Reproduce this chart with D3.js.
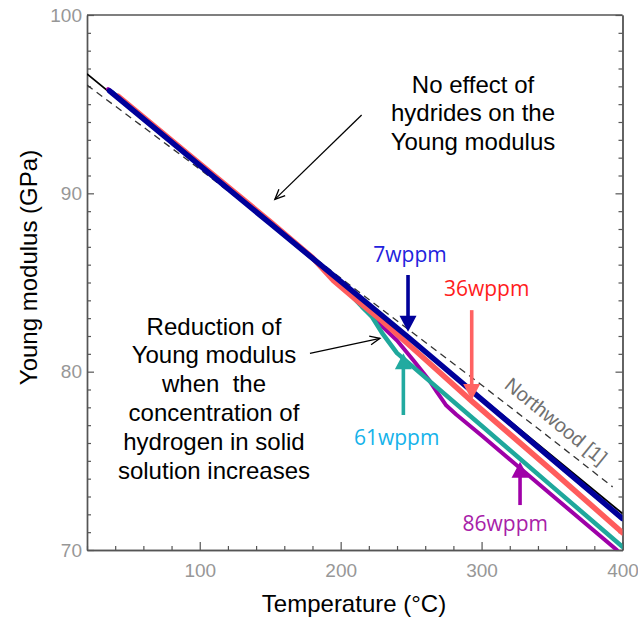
<!DOCTYPE html>
<html><head><meta charset="utf-8">
<script src="https://cdn.jsdelivr.net/npm/d3@7"></script>
<style>body{margin:0;background:#fff}svg{display:block}</style>
</head><body>
<svg id="c" width="638" height="619"></svg>
<script>
// ---- data (Temperature °C, Young modulus GPa) ----
const blackT = [20, 100, 200, 300, 400];
const blackE = [96.7, 91.51, 85.02, 78.53, 72.04];
const northwoodT = [20, 100, 150, 200, 250, 300, 350, 393];
const northwoodE = [96.07, 91.36, 88.3, 85.25, 82.25, 79.25, 76.2, 73.54];
const blueT = [36, 100, 150, 200, 248, 300, 350, 400];
const blueE = [95.75, 91.57, 88.31, 85.06, 81.93, 78.45, 75.1, 71.76];
const redT = [42, 100, 150, 180, 195, 210, 230, 250, 293, 350, 400];
const redE = [95.45, 91.67, 88.42, 86.4, 85.1, 84.1, 82.8, 81.4, 78.35, 74.45, 70.97];
const tealT = [38, 100, 150, 180, 200, 215, 222, 230, 240, 300, 350, 400];
const tealE = [95.65, 91.6, 88.35, 86.35, 84.9, 83.65, 83.1, 82.1, 81.04, 76.97, 73.57, 70.18];
const purpleT = [35, 100, 150, 180, 200, 215, 222, 230, 240, 252, 263, 268, 275, 282, 300, 350, 396];
const purpleE = [95.85, 91.6, 88.35, 86.35, 84.9, 83.7, 83.1, 82.5, 81.75, 80.6, 79.5, 78.9, 78.1, 77.6, 76.42, 73.07, 70.0];

const xTicksMajor = [100, 200, 300, 400];
const yTicksMajor = [70, 80, 90, 100];

const seriesLabels = ["7wppm", "36wppm", "61wppm", "86wppm"];
const arrowT = [247.8, 293.0, 244.5, 327.3];
const arrowTailE = [85.42, 83.45, 77.57, 72.52];
const arrowTipE = [82.24, 78.41, 81.03, 74.95];

// ---- layout ----
const svg = d3.select("#c");
const x = d3.scaleLinear().domain([20, 400]).range([87, 622.5]);
const y = d3.scaleLinear().domain([70, 100]).range([550, 15]);
const axisCol = "#555";
const tickFont = "'Liberation Sans', Arial, sans-serif";

svg.append("defs").append("clipPath").attr("id", "clip")
  .append("rect").attr("x", x(20)).attr("y", y(100))
  .attr("width", x(400) - x(20)).attr("height", y(70) - y(100));

// axes frame
svg.append("line").attr("x1", x(20)).attr("x2", x(400)).attr("y1", y(100)).attr("y2", y(100))
  .attr("stroke", axisCol).attr("stroke-width", 1.4);

function styleAxis(g) {
  g.selectAll("path.domain").attr("stroke", axisCol).attr("stroke-width", 1.4);
  g.selectAll(".tick line").attr("stroke", axisCol).attr("stroke-width", 1.2);
}
const yMinor = d3.range(70, 101, 1).filter(v => !yTicksMajor.includes(v));
const xMinor = d3.range(20, 401, 20).filter(v => !xTicksMajor.includes(v));

// left
svg.append("g").attr("transform", `translate(${x(20)},0)`)
  .call(d3.axisRight(y).tickValues(yMinor).tickSize(4).tickSizeOuter(0).tickFormat(""))
  .call(styleAxis);
svg.append("g").attr("transform", `translate(${x(20)},0)`)
  .call(d3.axisRight(y).tickValues(yTicksMajor).tickSize(7).tickSizeOuter(0).tickFormat(""))
  .call(styleAxis);
// right
svg.append("g").attr("transform", `translate(${x(400)},0)`)
  .call(d3.axisLeft(y).tickValues(yMinor).tickSize(4).tickSizeOuter(0).tickFormat(""))
  .call(styleAxis);
svg.append("g").attr("transform", `translate(${x(400)},0)`)
  .call(d3.axisLeft(y).tickValues(yTicksMajor).tickSize(7).tickSizeOuter(0).tickFormat(""))
  .call(styleAxis);
// bottom
svg.append("g").attr("transform", `translate(0,${y(70)})`)
  .call(d3.axisTop(x).tickValues(xMinor).tickSize(4).tickSizeOuter(0).tickFormat(""))
  .call(styleAxis);
svg.append("g").attr("transform", `translate(0,${y(70)})`)
  .call(d3.axisTop(x).tickValues(xTicksMajor).tickSize(8).tickSizeOuter(0).tickFormat(""))
  .call(styleAxis);

// tick labels
const yl = svg.append("g").attr("transform", `translate(${x(20)},0)`)
  .call(d3.axisLeft(y).tickValues(yTicksMajor).tickSize(0).tickPadding(5).tickFormat(d3.format("d")));
yl.select("path.domain").remove();
yl.selectAll("text").attr("font-family", tickFont).attr("font-size", 19).attr("fill", "#979797");
const xl = svg.append("g").attr("transform", `translate(0,${y(70)})`)
  .call(d3.axisBottom(x).tickValues(xTicksMajor).tickSize(0).tickPadding(14).tickFormat(d3.format("d")));
xl.select("path.domain").remove();
xl.selectAll("text").attr("font-family", tickFont).attr("font-size", 19).attr("fill", "#979797");

// axis titles
svg.append("text").attr("x", 354).attr("y", 612).attr("text-anchor", "middle")
  .attr("font-family", tickFont).attr("font-size", 24).attr("fill", "#000")
  .text("Temperature (°C)");
svg.append("text").attr("transform", "translate(36.5,267.5) rotate(-90)").attr("text-anchor", "middle")
  .attr("font-family", tickFont).attr("font-size", 24).attr("fill", "#000")
  .text("Young modulus (GPa)");

// ---- curves ----
const plot = svg.append("g").attr("clip-path", "url(#clip)");
const line = d3.line().x(d => x(d[0])).y(d => y(d[1]));
function series(T, E) { return T.map((t, i) => [t, E[i]]); }

plot.append("path").datum(series(blackT, blackE)).attr("d", line)
  .attr("fill", "none").attr("stroke", "#000").attr("stroke-width", 1.8);
plot.append("path").datum(series(northwoodT, northwoodE)).attr("d", line)
  .attr("fill", "none").attr("stroke", "#333").attr("stroke-width", 1.3).attr("stroke-dasharray", "7,5");

const curves = [
  {T: purpleT, E: purpleE, c: "#9e00a8", w: 4},
  {T: tealT, E: tealE, c: "#1fa89c", w: 4.5},
  {T: redT, E: redE, c: "#ff5c5c", w: 5.5},
  {T: blueT, E: blueE, c: "#00009a", w: 5.5}
];
curves.forEach(s => {
  plot.append("path").datum(series(s.T, s.E)).attr("d", line)
    .attr("fill", "none").attr("stroke", s.c).attr("stroke-width", s.w)
    .attr("stroke-linejoin", "round").attr("stroke-linecap", "round");
});

// Northwood label
svg.append("text").attr("transform", "translate(556,421) rotate(39)")
  .attr("text-anchor", "middle").attr("dominant-baseline", "central")
  .attr("font-family", tickFont).attr("font-size", 20).attr("fill", "#707070")
  .text("Northwood [1]");

// ---- thick coloured arrows + labels ----
const arrowCols = ["#00009a", "#ff6262", "#22aaa0", "#a000a8"];
const labelCols = ["#2222dd", "#ff1c1c", "#14b2ea", "#a820a8"];
const labelX = [410, 486.7, 396.7, 505.3];
const labelY = [262, 296, 445, 531];
seriesLabels.forEach((lab, i) => {
  const ax = x(arrowT[i]);
  const yTail = y(arrowTailE[i]);
  const yTip = y(arrowTipE[i]);
  const dir = yTip > yTail ? 1 : -1;
  const headL = 16, headW = 17;
  svg.append("line").attr("x1", ax).attr("x2", ax).attr("y1", yTail).attr("y2", yTip - dir * headL + dir)
    .attr("stroke", arrowCols[i]).attr("stroke-width", 3.6);
  svg.append("path")
    .attr("d", `M${ax - headW / 2},${yTip - dir * headL} L${ax + headW / 2},${yTip - dir * headL} L${ax},${yTip} Z`)
    .attr("fill", arrowCols[i]);
  svg.append("text").attr("x", labelX[i]).attr("y", labelY[i]).attr("text-anchor", "middle")
    .attr("font-family", "'Open Sans', 'Noto Sans', sans-serif").attr("font-size", 21)
    .attr("fill", labelCols[i]).text(lab);
});

// ---- annotation text + thin arrows ----
const annoFont = tickFont;
const noEffect = ["No effect of", "hydrides on the", "Young modulus"];
noEffect.forEach((t, i) => {
  svg.append("text").attr("x", 473).attr("y", 92.5 + i * 28.5).attr("text-anchor", "middle")
    .attr("font-family", annoFont).attr("font-size", 24).attr("fill", "#000").text(t);
});
const reduction = ["Reduction of", "Young modulus", "when  the", "concentration of", "hydrogen in solid", "solution increases"];
reduction.forEach((t, i) => {
  svg.append("text").attr("x", 214).attr("y", 334.5 + i * 28.9).attr("text-anchor", "middle")
    .attr("font-family", annoFont).attr("font-size", 24).attr("fill", "#000")
    .style("white-space", "pre").text(t);
});

function thinArrow(t1, e1, t2, e2) {
  const x1 = x(t1), y1 = y(e1), x2 = x(t2), y2 = y(e2);
  const a = Math.atan2(y2 - y1, x2 - x1);
  const L = 11, sp = 0.42;
  svg.append("line").attr("x1", x1).attr("y1", y1).attr("x2", x2).attr("y2", y2)
    .attr("stroke", "#000").attr("stroke-width", 1.3);
  svg.append("path")
    .attr("d", `M${x2 - L * Math.cos(a - sp)},${y2 - L * Math.sin(a - sp)} L${x2},${y2} L${x2 - L * Math.cos(a + sp)},${y2 - L * Math.sin(a + sp)}`)
    .attr("fill", "none").attr("stroke", "#000").attr("stroke-width", 1.3);
}
thinArrow(214.9, 94.39, 153.3, 89.66);
thinArrow(178.2, 81.03, 227.9, 81.87);
</script>
</body></html>
